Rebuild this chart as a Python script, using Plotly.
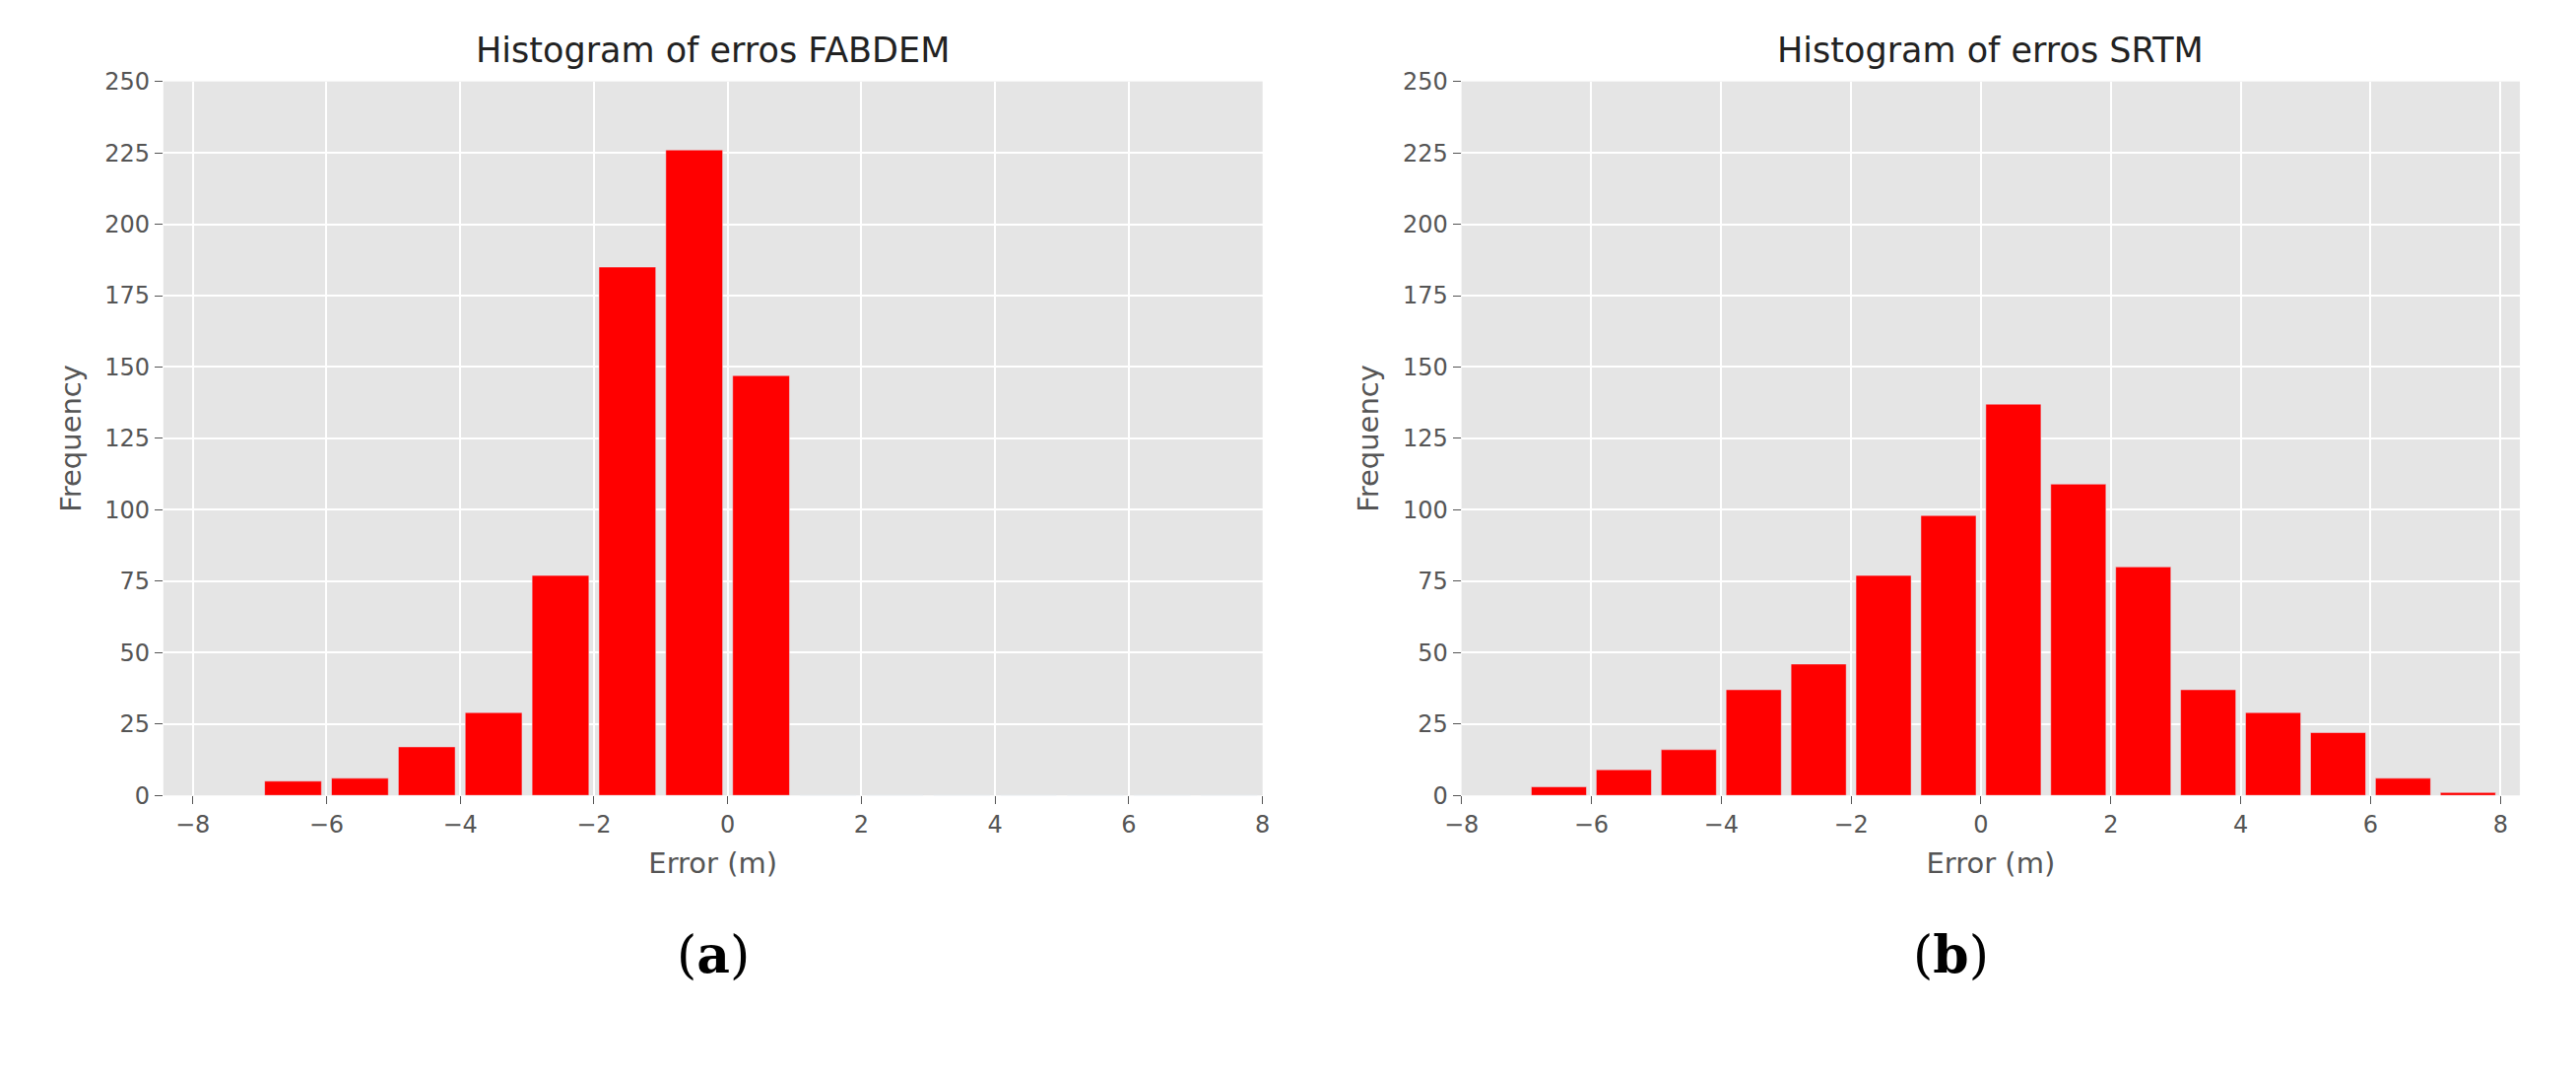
import plotly.graph_objects as go

centers = [-6.5,-5.5,-4.5,-3.5,-2.5,-1.5,-0.5,0.5,1.5,2.5,3.5,4.5,5.5,6.5,7.5]
fabdem = [5,6,17,29,77,185,226,147,0,0,0,0,0,0,0]
srtm = [3,9,16,37,46,77,98,137,109,80,37,29,22,6,1]
yticks = [0,25,50,75,100,125,150,175,200,225,250]
xticks = [-8,-6,-4,-2,0,2,4,6,8]

fig = go.Figure()
fig.add_bar(x=centers, y=fabdem, width=0.85, marker_color="#ff0000", xaxis="x", yaxis="y")
fig.add_bar(x=centers, y=srtm, width=0.85, marker_color="#ff0000", xaxis="x2", yaxis="y2")

ax = dict(showgrid=True, gridcolor="white", gridwidth=2, zeroline=False, ticks="outside",
          ticklen=8, tickcolor="#555", tickfont=dict(size=24, color="#555", family="DejaVu Sans"))
tf = dict(size=29, color="#555")
fig.update_layout(
    width=2615, height=1092, showlegend=False, plot_bgcolor="#e5e5e5", paper_bgcolor="white",
    margin=dict(l=0, r=0, t=0, b=0), font=dict(family="DejaVu Sans"),
    xaxis=dict(ax, domain=[0.054, 0.485], range=[-8.44, 8], tickvals=xticks, anchor="y",
               title=dict(text="Error (m)", font=tf)),
    yaxis=dict(ax, domain=[0.262, 0.943], range=[0, 250], tickvals=yticks, anchor="x",
               title=dict(text="Frequency", font=tf)),
    xaxis2=dict(ax, domain=[0.563, 0.978], range=[-8, 8.3], tickvals=xticks, anchor="y2",
                title=dict(text="Error (m)", font=tf)),
    yaxis2=dict(ax, domain=[0.262, 0.943], range=[0, 250], tickvals=yticks, anchor="x2",
                title=dict(text="Frequency", font=tf)),
    annotations=[
        dict(text="Histogram of erros FABDEM", x=0.2695, y=0.952, xref="paper", yref="paper",
             showarrow=False, xanchor="center", yanchor="bottom", font=dict(size=35, color="#222")),
        dict(text="Histogram of erros SRTM", x=0.7705, y=0.952, xref="paper", yref="paper",
             showarrow=False, xanchor="center", yanchor="bottom", font=dict(size=35, color="#222")),
        dict(text="(<b>a</b>)", x=0.2695, y=0.08, xref="paper", yref="paper", showarrow=False,
             xanchor="center", font=dict(size=52, family="DejaVu Serif", color="black")),
        dict(text="(<b>b</b>)", x=0.755, y=0.08, xref="paper", yref="paper", showarrow=False,
             xanchor="center", font=dict(size=52, family="DejaVu Serif", color="black")),
    ],
)
fig.write_html("out.html")
